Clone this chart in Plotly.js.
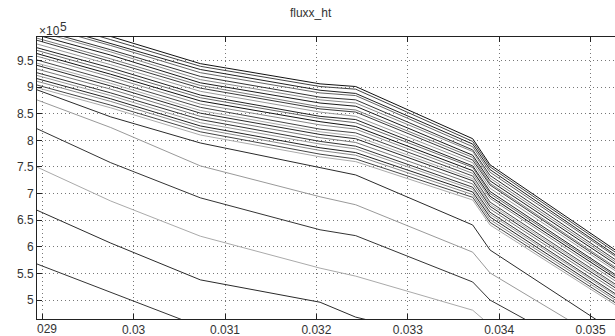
<!DOCTYPE html>
<html>
<head>
<meta charset="utf-8">
<script src="https://cdn.plot.ly/plotly-3.0.1.min.js"></script>
<style>html,body{margin:0;padding:0;background:#fff;}#chart{width:615px;height:336px;}</style>
</head>
<body>
<div id="chart"></div>
<script>
// x positions (same for every curve)
const xPts = [0.02894, 0.02975, 0.03073, 0.03204, 0.03243, 0.03371, 0.0339, 0.03527];

// y values in units of 1e5
const s01 = [10.34, 9.95, 9.44, 9.06, 9.01, 8.03, 7.54, 5.94];
const s02 = [10.29, 9.89, 9.39, 9.01, 8.96, 7.98, 7.50, 5.90];
const s03 = [10.22, 9.82, 9.33, 8.94, 8.88, 7.93, 7.45, 5.85];
const s04 = [10.17, 9.78, 9.27, 8.89, 8.84, 7.88, 7.40, 5.82];
const s05 = [10.09, 9.70, 9.20, 8.81, 8.76, 7.82, 7.34, 5.76];
const s06 = [10.05, 9.66, 9.14, 8.76, 8.70, 7.79, 7.29, 5.72];
const s07 = [9.98, 9.60, 9.08, 8.70, 8.64, 7.72, 7.24, 5.68];
const s08 = [9.92, 9.53, 9.03, 8.63, 8.57, 7.68, 7.19, 5.62];
const s09 = [9.88, 9.48, 8.98, 8.59, 8.53, 7.63, 7.16, 5.59];
const s10 = [9.81, 9.42, 8.92, 8.53, 8.45, 7.58, 7.10, 5.55];
const s11 = [9.74, 9.36, 8.85, 8.45, 8.39, 7.52, 7.04, 5.48];
const s12 = [9.69, 9.30, 8.80, 8.41, 8.33, 7.49, 7.00, 5.45];
const s13 = [9.63, 9.24, 8.74, 8.35, 8.26, 7.43, 6.95, 5.41];
const s14 = [9.58, 9.19, 8.68, 8.29, 8.21, 7.38, 6.91, 5.36];
const s15 = [9.51, 9.12, 8.62, 8.21, 8.14, 7.33, 6.84, 5.30];
const s16 = [9.45, 9.07, 8.56, 8.16, 8.08, 7.28, 6.80, 5.27];
const s17 = [9.41, 9.02, 8.51, 8.11, 8.03, 7.24, 6.76, 5.23];
const s18 = [9.34, 8.96, 8.45, 8.05, 7.96, 7.18, 6.71, 5.18];
const s19 = [9.27, 8.89, 8.39, 7.98, 7.89, 7.12, 6.65, 5.12];
const s20 = [9.22, 8.84, 8.33, 7.93, 7.84, 7.08, 6.61, 5.09];
const s21 = [9.16, 8.78, 8.27, 7.86, 7.77, 7.03, 6.56, 5.04];
const s22 = [9.11, 8.73, 8.22, 7.81, 7.72, 6.98, 6.51, 5.00];
const s23 = [9.04, 8.66, 8.16, 7.74, 7.65, 6.93, 6.46, 4.95];
const s24 = [8.99, 8.61, 8.10, 7.69, 7.60, 6.88, 6.41, 4.91];
const s25 = [8.95, 8.44, 7.95, 7.48, 7.35, 6.41, 5.94, 4.40];
const s26 = [8.76, 8.24, 7.52, 6.94, 6.79, 5.90, 5.51, 4.10];
const s27 = [8.22, 7.58, 6.92, 6.32, 6.21, 5.34, 5.00, 3.71];
const s28 = [7.50, 6.86, 6.20, 5.60, 5.45, 4.81, 4.53, 3.24];
const s29 = [6.69, 6.07, 5.38, 4.96, 4.68, 4.16, 3.97, 2.75];
const s30 = [5.68, 5.15, 4.50, 3.97, 3.84, 3.12, 2.93, 1.71];

const allSeries = [s01,s02,s03,s04,s05,s06,s07,s08,s09,s10,s11,s12,s13,s14,s15,
                   s16,s17,s18,s19,s20,s21,s22,s23,s24,s25,s26,s27,s28,s29,s30];
const lineColors = ['#111','#444','#222','#666','#333','#888','#1a1a1a','#777','#3a3a3a','#999',
                    '#222','#666','#111','#888','#444','#aaa','#2a2a2a','#777','#333','#999',
                    '#222','#888','#444','#aaa','#2a2a2a','#999','#333','#aaa','#2a2a2a','#333'];

const yTickVals = [5, 5.5, 6, 6.5, 7, 7.5, 8, 8.5, 9, 9.5];
const yTickText = ['5', '5.5', '6', '6.5', '7', '7.5', '8', '8.5', '9', '9.5'];
const xTickVals = [0.029, 0.030, 0.031, 0.032, 0.033, 0.034, 0.035];
const xTickText = ['', '0.03', '0.031', '0.032', '0.033', '0.034', '0.035'];

const traces = allSeries.map((ys, i) => ({
  x: xPts, y: ys, type: 'scatter', mode: 'lines',
  line: {color: lineColors[i], width: 1}, hoverinfo: 'skip', showlegend: false
}));

const font = {family: 'Liberation Sans, Arial, sans-serif', size: 12, color: '#333'};
const layout = {
  width: 615, height: 336,
  margin: {l: 37, r: 0, t: 37, b: 17, pad: 0},
  paper_bgcolor: '#fff', plot_bgcolor: '#fff',
  font: font,
  title: {text: 'fluxx_ht', font: {family: font.family, size: 12, color: '#333'}, x: 0.505, xanchor: 'center', y: 0.962, yanchor: 'middle'},
  xaxis: {
    range: [0.028943, 0.035267], tickvals: xTickVals, ticktext: xTickText,
    showgrid: true, gridcolor: '#777', griddash: '1px,3px', gridwidth: 1,
    showline: true, linecolor: '#222', linewidth: 1, mirror: 'ticks',
    ticks: 'inside', ticklen: 5, tickcolor: '#222', zeroline: false,
    tickfont: font
  },
  yaxis: {
    range: [4.645, 9.94], tickvals: yTickVals, ticktext: yTickText,
    showgrid: true, gridcolor: '#777', griddash: '1px,3px', gridwidth: 1,
    showline: true, linecolor: '#222', linewidth: 1,
    ticks: 'inside', ticklen: 5, tickcolor: '#222', zeroline: false,
    tickfont: font
  },
  annotations: [
    {text: '×10', xref: 'paper', yref: 'paper', x: 0, y: 1, xanchor: 'left', yanchor: 'bottom',
     showarrow: false, font: font, xshift: 0, yshift: -3},
    {text: '5', xref: 'paper', yref: 'paper', x: 0, y: 1, xanchor: 'left', yanchor: 'bottom',
     showarrow: false, font: font, xshift: 21, yshift: 1}
    ,
    {text: '029', xref: 'x', yref: 'paper', x: 0.029, y: 0, xanchor: 'left', yanchor: 'top',
     showarrow: false, font: font, xshift: -7, yshift: -1}
  ]
};

Plotly.newPlot('chart', traces, layout, {staticPlot: true, displayModeBar: false});
</script>
</body>
</html>
